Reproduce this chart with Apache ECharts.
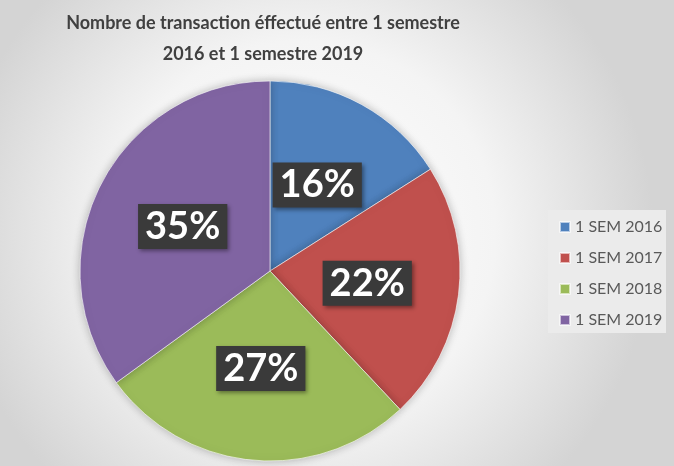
<!DOCTYPE html>
<html>
<head>
<meta charset="utf-8">
<script src="https://cdn.jsdelivr.net/npm/echarts@6/dist/echarts.min.js"></script>
<style>
  html, body { margin: 0; padding: 0; }
  #chart { width: 674px; height: 466px; }
</style>
</head>
<body>
<div id="chart"></div>
<script>
    var categories = ['1 SEM 2016', '1 SEM 2017', '1 SEM 2018', '1 SEM 2019'];
    var shares = [16, 22, 27, 35];
    var colors = ['#4f81bd', '#c0504d', '#9bbb59', '#8064a2'];

    var pieData = [];
    for (var i = 0; i < categories.length; i++) {
        pieData.push({ name: categories[i], value: shares[i] });
    }

    var option = {
        backgroundColor: {
            type: 'radial', x: 0.45, y: 0.5, r: 0.75,
            colorStops: [
                { offset: 0, color: '#ffffff' },
                { offset: 0.55, color: '#f4f4f4' },
                { offset: 1, color: '#d4d4d4' }
            ]
        },
        color: colors,
        animation: false,
        title: {
            text: 'Nombre de transaction éffectué entre 1 semestre\n2016 et 1 semestre 2019',
            left: 258,
            top: 3,
            textAlign: 'center',
            textStyle: {
                fontFamily: 'Lato',
                fontWeight: 'bold',
                fontSize: 18,
                lineHeight: 31,
                color: '#404040'
            }
        },
        graphic: [{
            type: 'rect',
            shape: { x: 548, y: 210, width: 118, height: 123 },
            style: { fill: '#ebebeb' },
            z: -1
        }],
        legend: {
            orient: 'vertical',
            left: 554,
            top: 214,
            itemWidth: 10,
            itemHeight: 10,
            itemGap: 15,
            icon: 'rect',
            textStyle: {
                fontFamily: 'Lato',
                fontSize: 16,
                color: '#595959'
            }
        },
        series: [{
            type: 'pie',
            center: [270, 271],
            radius: 190,
            startAngle: 90,
            clockwise: true,
            data: pieData,
            itemStyle: {
                borderColor: 'rgba(255,255,255,0.6)',
                borderWidth: 1,
                shadowBlur: 8,
                shadowColor: 'rgba(0,0,0,0.25)'
            },
            label: {
                position: 'inside',
                formatter: '{d}%',
                fontFamily: 'Lato',
                fontWeight: 'bold',
                fontSize: 38,
                color: '#ffffff',
                backgroundColor: '#3a3a3a',
                padding: [5, 7, 2, 7],
                shadowBlur: 4,
                shadowColor: 'rgba(0,0,0,0.4)',
                shadowOffsetX: 2,
                shadowOffsetY: 2
            },
            labelLine: { show: false },
            emphasis: { disabled: true }
        }]
    };

    var chart = echarts.init(document.getElementById('chart'));
    chart.setOption(option);
</script>
</body>
</html>
